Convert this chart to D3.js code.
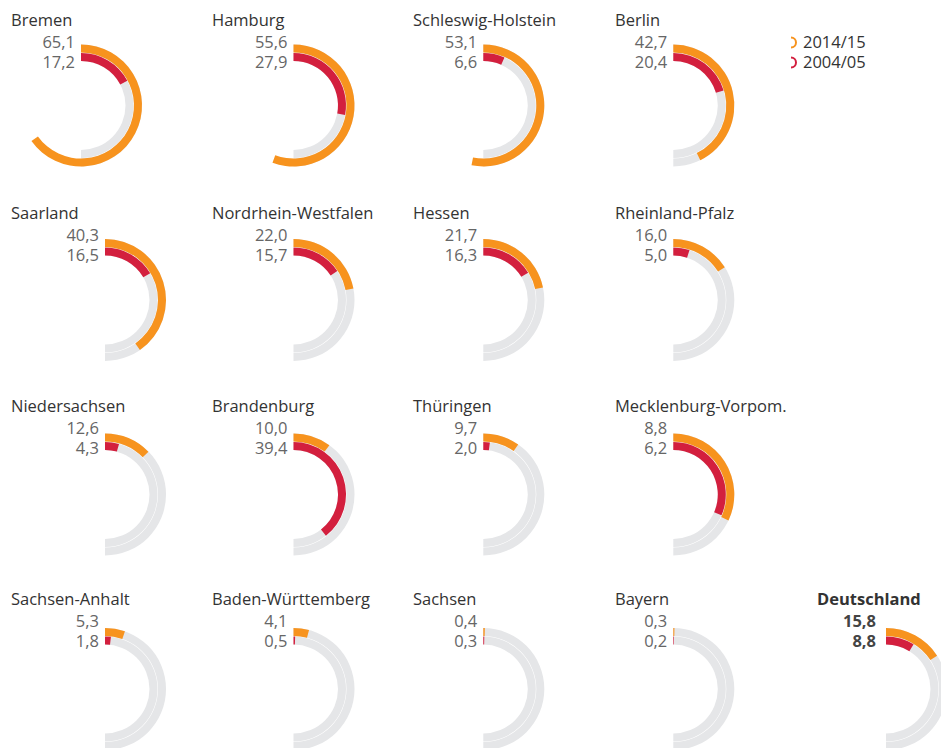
<!DOCTYPE html>
<html>
<head>
<meta charset="utf-8">
<script src="https://cdn.jsdelivr.net/npm/d3@7"></script>
<style>
  body { margin: 0; background: #fff; }
  text { font-family: "Open Sans", "Noto Sans", sans-serif; }
</style>
</head>
<body>
<svg id="chart" width="941" height="748"></svg>
<script>
// Bundesländer, in the order they are shown (4 per row, Deutschland last)
var states = ["Bremen", "Hamburg", "Schleswig-Holstein", "Berlin",
              "Saarland", "Nordrhein-Westfalen", "Hessen", "Rheinland-Pfalz",
              "Niedersachsen", "Brandenburg", "Thüringen", "Mecklenburg-Vorpom.",
              "Sachsen-Anhalt", "Baden-Württemberg", "Sachsen", "Bayern",
              "Deutschland"];

// printed values
var label2015 = [65.1, 55.6, 53.1, 42.7, 40.3, 22.0, 21.7, 16.0, 12.6, 10.0, 9.7, 8.8, 5.3, 4.1, 0.4, 0.3, 15.8];
var label2005 = [17.2, 27.9, 6.6, 20.4, 16.5, 15.7, 16.3, 5.0, 4.3, 39.4, 2.0, 6.2, 1.8, 0.5, 0.3, 0.2, 8.8];

// arc lengths as drawn in the picture (Mecklenburg-Vorpom. arcs do not match its labels)
var arc2015 = [65.1, 55.6, 53.1, 42.7, 40.3, 22.0, 21.7, 16.0, 12.6, 10.0, 9.7, 32.0, 5.3, 4.1, 0.4, 0.3, 15.8];
var arc2005 = [17.2, 27.9, 6.6, 20.4, 16.5, 15.7, 16.3, 5.0, 4.3, 39.4, 2.0, 31.5, 1.8, 0.5, 0.3, 0.2, 8.8];

var legendLabels = ["2014/15", "2004/05"];

var colors = {y2015: "#f7931e", y2005: "#d31f3e", track: "#e5e6e8"};

var svg = d3.select("#chart");
var fmt = d3.formatLocale({decimal: ",", thousands: ".", grouping: [3], currency: ["", "€"]}).format(".1f");

// half a circle = 50 %
var angle = d3.scaleLinear().domain([0, 50]).range([0, Math.PI]);

var outerArc = d3.arc().innerRadius(53).outerRadius(61).startAngle(0);
var innerArc = d3.arc().innerRadius(44.5).outerRadius(52.5).startAngle(0);

// grid layout
var titleX = [11, 212, 413, 615, 817];
var arcX = [105, 293.5, 483.3, 673.3, 886];

var cells = states.map(function(name, i) {
    var last = i === states.length - 1;
    var row = last ? 3 : Math.floor(i / 4);
    var col = last ? 4 : i % 4;
    var cx = arcX[col];
    if (name === "Bremen") cx = 81;  // shifted left in the original to fit the long arc
    return {
        name: name, bold: last,
        l15: label2015[i], l05: label2005[i],
        a15: arc2015[i], a05: arc2005[i],
        tx: titleX[col], ty: 26 + row * 193,
        cx: cx, cy: 44.5 + row * 194.5 + 61
    };
});

var cell = svg.selectAll(".cell")
    .data(cells)
    .enter()
    .append("g")
    .attr("class", "cell");

cell.append("text")
    .attr("x", function(d) { return d.tx; })
    .attr("y", function(d) { return d.ty; })
    .attr("font-size", 16.5)
    .attr("font-weight", function(d) { return d.bold ? 700 : 400; })
    .attr("fill", "#333")
    .text(function(d) { return d.name; });

cell.append("text")
    .attr("text-anchor", "end")
    .attr("x", function(d) { return d.cx - (d.bold ? 10 : 6); })
    .attr("y", function(d) { return d.ty + 22.3; })
    .attr("font-size", 16.5)
    .attr("font-weight", function(d) { return d.bold ? 700 : 400; })
    .attr("fill", function(d) { return d.bold ? "#444" : "#666"; })
    .text(function(d) { return fmt(d.l15); });

cell.append("text")
    .attr("text-anchor", "end")
    .attr("x", function(d) { return d.cx - (d.bold ? 10 : 6); })
    .attr("y", function(d) { return d.ty + 42.3; })
    .attr("font-size", 16.5)
    .attr("font-weight", function(d) { return d.bold ? 700 : 400; })
    .attr("fill", function(d) { return d.bold ? "#444" : "#666"; })
    .text(function(d) { return fmt(d.l05); });

var rings = cell.append("g")
    .attr("transform", function(d) { return "translate(" + d.cx + "," + d.cy + ")"; });

// gray tracks
rings.append("path")
    .attr("fill", colors.track)
    .attr("d", outerArc.endAngle(Math.PI)());
rings.append("path")
    .attr("fill", colors.track)
    .attr("d", innerArc.endAngle(Math.PI)());

// value arcs
rings.append("path")
    .attr("fill", colors.y2015)
    .attr("d", function(d) { return outerArc.endAngle(angle(d.a15))(); });
rings.append("path")
    .attr("fill", colors.y2005)
    .attr("d", function(d) { return innerArc.endAngle(angle(d.a05))(); });

// legend
var legendArc = d3.arc().innerRadius(4).outerRadius(6).startAngle(0).endAngle(Math.PI);
var legend = svg.selectAll(".legend")
    .data(legendLabels)
    .enter()
    .append("g")
    .attr("class", "legend")
    .attr("transform", function(d, i) { return "translate(791," + (42.5 + i * 20) + ")"; });

legend.append("path")
    .attr("fill", function(d, i) { return i === 0 ? colors.y2015 : colors.y2005; })
    .attr("d", legendArc());

legend.append("text")
    .attr("x", 12)
    .attr("y", 5.8)
    .attr("font-size", 16.5)
    .attr("fill", "#333")
    .text(function(d) { return d; });
</script>
</body>
</html>
